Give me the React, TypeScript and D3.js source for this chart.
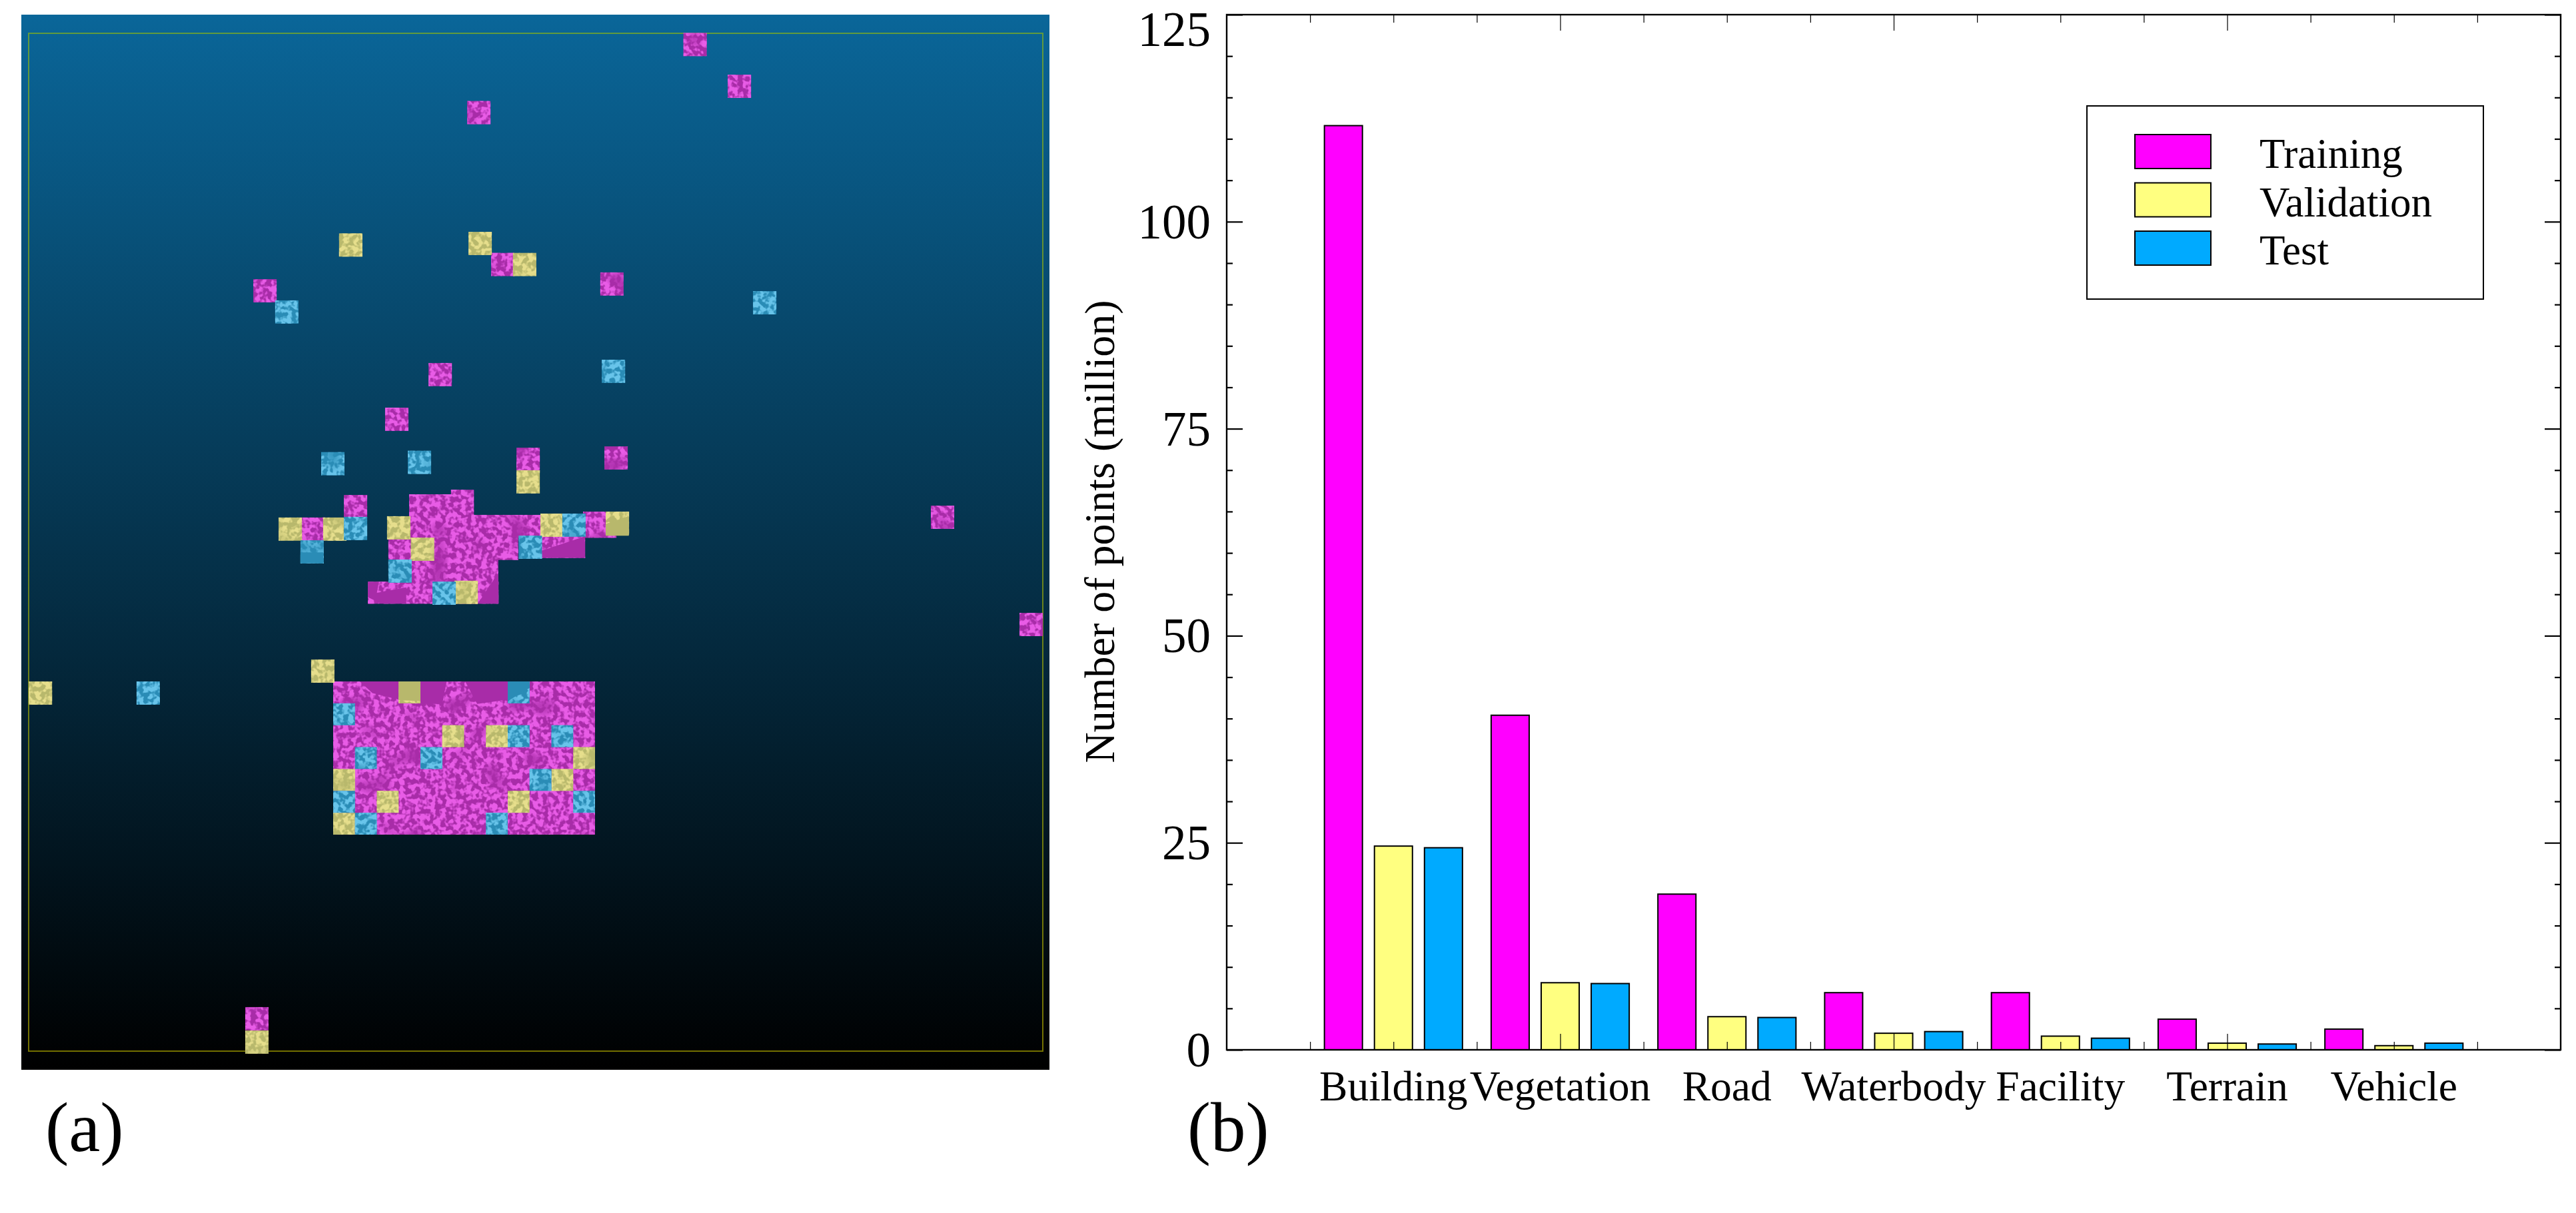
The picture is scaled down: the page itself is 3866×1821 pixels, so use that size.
import { useEffect, useRef } from 'react'
import * as d3 from 'd3'

// Panel (b): point counts in million
const categories = ['Building', 'Vegetation', 'Road', 'Waterbody', 'Facility', 'Terrain', 'Vehicle']
const trainingPoints = [111.6, 40.4, 18.8, 6.9, 6.9, 3.7, 2.5]
const validationPoints = [24.6, 8.1, 4.0, 2.0, 1.65, 0.8, 0.5]
const testPoints = [24.4, 8.0, 3.9, 2.2, 1.4, 0.7, 0.8]
const yMajorTicks = [0, 25, 50, 75, 100, 125]
const legendLabels = ['Training', 'Validation', 'Test']

// Panel (a): tile positions, in grid cells of the large block
const trainingBlocks = [
  [0, 0, 12, 7],
  [3.48, -8.55, 2.05, 1],
  [5.4, -8.76, 1.05, 1.2],
  [3.48, -7.61, 9.5, 1.05],
  [2.53, -6.57, 5.95, 1.02],
  [9.5, -6.66, 2.05, 1.02],
  [3.54, -5.57, 4.03, 1.03],
  [1.59, -4.56, 5.99, 1.01],
]
const trainingTiles = [
  [16.05, -29.63], [18.08, -27.72], [6.14, -26.52], [7.24, -19.58], [12.24, -18.69], [-3.66, -18.38],
  [4.37, -14.55], [2.38, -12.51], [8.4, -10.68], [12.43, -10.74], [27.39, -8.03], [0.49, -8.52],
  [-1.44, -7.49], [11.45, -7.76], [-4.03, 14.88], [31.45, -3.13],
]
const validationTiles = [
  [0.27, -20.47], [6.2, -20.54], [8.24, -19.58], [8.4, -9.65], [-2.5, -7.49], [-0.46, -7.49],
  [2.47, -7.55], [3.56, -6.57], [5.56, -4.6], [9.5, -7.67], [12.49, -7.76], [-4.03, 15.95],
  [-13.95, 0], [-1.01, -1],
]
const testTiles = [
  [-2.66, -17.41], [19.24, -17.83], [12.31, -14.7], [-0.55, -10.48], [3.42, -10.54], [0.49, -7.52],
  [-1.5, -6.45], [2.53, -5.57], [4.55, -4.56], [8.5, -6.66], [10.5, -7.67], [-9.01, 0],
]
const validationCells = [
  [3, 0], [5, 2], [7, 2], [11, 3], [0, 4], [10, 4], [2, 5], [8, 5], [0, 6],
]
const testCells = [
  [8, 0], [0, 1], [8, 2], [10, 2], [1, 3], [4, 3], [9, 4], [0, 5], [11, 5], [1, 6], [7, 6],
]
// areas of the tiles without texture
const trainingFlat = [
  [[1.22, 0], [3, 0], [3, 0.83], [1.8, 0.53]],
  [[4, 0], [5.2, 0], [5, 1.03], [4, 1.03]],
  [[6.05, 0], [8, 0], [8, 0.83], [6.6, 1.03]],
  [[11.53, -6.63], [11.53, -5.65], [9.56, -5.65], [9.56, -5.97]],
  [[7.57, -4.96], [7.57, -3.56], [6.63, -3.56]],
  [[1.59, -4.56], [2.1, -4.56], [2, -4.05], [3.35, -4.3], [3.35, -3.56], [2.2, -3.56], [1.59, -3.85]],
]
const validationFlat = [
  [[12.49, -7.2], [13.55, -7.55], [13.55, -6.66], [12.49, -6.66]],
  [[3, 0], [4, 0], [4, 0.9], [3, 0.85]],
]
const testFlat = [
  [[-1.5, -5.9], [-0.45, -5.9], [-0.45, -5.4], [-1.5, -5.4]],
  [[8, 0], [9, 0], [9, 0.3], [8, 0.9]],
]

const SERIF = '"Liberation Serif", "Times New Roman", serif'
const BAR_COLORS = ['#ff00ff', '#ffff80', '#00aaff']
const TILE_DARK = ['#a82ca8', '#b8b86c', '#2a8cb6']
const TILE_LIGHT = ['#e85ce6', '#e6de8c', '#68c4ea']

export default function App() {
  const svgRef = useRef<SVGSVGElement>(null)

  useEffect(() => {
    const svg = d3.select(svgRef.current)
    svg.selectAll('*').remove()
    const defs = svg.append('defs')

    const bg = defs.append('linearGradient').attr('id', 'ocean').attr('x1', 0).attr('x2', 0).attr('y1', 0).attr('y2', 1)
    bg.append('stop').attr('offset', 0).attr('stop-color', '#0a6699')
    bg.append('stop').attr('offset', 1).attr('stop-color', '#000000')

    const fr = defs.append('linearGradient').attr('id', 'frameLine').attr('x1', 0).attr('x2', 0).attr('y1', 0).attr('y2', 1)
    fr.append('stop').attr('offset', 0).attr('stop-color', '#5f9a3f')
    fr.append('stop').attr('offset', 1).attr('stop-color', '#737000')

    // speckle for the imagery tiles: fine grain, gated by a coarser noise
    TILE_LIGHT.forEach((light, i) => {
      const c = d3.rgb(light)
      const f = defs.append('filter').attr('id', `speckle${i}`)
        .attr('filterUnits', 'userSpaceOnUse')
        .attr('x', 0).attr('y', 0).attr('width', 1600).attr('height', 1620)
        .attr('color-interpolation-filters', 'sRGB')
      f.append('feTurbulence').attr('type', 'fractalNoise').attr('baseFrequency', 0.13)
        .attr('numOctaves', 2).attr('seed', 3 + i).attr('result', 'fine')
      f.append('feColorMatrix').attr('in', 'fine').attr('type', 'matrix')
        .attr('values', `0 0 0 0 ${c.r / 255} 0 0 0 0 ${c.g / 255} 0 0 0 0 ${c.b / 255} 6 0 0 0 -2.5`)
        .attr('result', 'spots')
      f.append('feTurbulence').attr('type', 'fractalNoise').attr('baseFrequency', 0.025)
        .attr('numOctaves', 1).attr('seed', 11 + i).attr('result', 'coarse')
      f.append('feColorMatrix').attr('in', 'coarse').attr('type', 'matrix')
        .attr('values', '0 0 0 0 0 0 0 0 0 0 0 0 0 0 0 5 0 0 0 -1.1')
        .attr('result', 'gate')
      f.append('feComposite').attr('in', 'spots').attr('in2', 'gate').attr('operator', 'in').attr('result', 'gated')
      f.append('feComposite').attr('in', 'gated').attr('in2', 'SourceAlpha').attr('operator', 'in').attr('result', 'clipped')
      const m = f.append('feMerge')
      m.append('feMergeNode').attr('in', 'SourceGraphic')
      m.append('feMergeNode').attr('in', 'clipped')
    })

    // ---- panel (a) ----
    const map = svg.append('g')
    map.append('rect').attr('x', 32).attr('y', 22).attr('width', 1543).attr('height', 1584).attr('fill', 'url(#ocean)')
    map.append('rect').attr('x', 43).attr('y', 50).attr('width', 1522).attr('height', 1528)
      .attr('fill', 'none').attr('stroke', 'url(#frameLine)').attr('stroke-width', 2)

    const tileX = d3.scaleLinear().domain([0, 12]).range([500, 893])
    const tileY = d3.scaleLinear().domain([0, 7]).range([1023, 1253])
    const cellW = tileX(1) - tileX(0)
    const cellH = tileY(1) - tileY(0)
    const flatPath = d3.line<number[]>().x(d => tileX(d[0])).y(d => tileY(d[1]))

    const layers = [
      { blocks: trainingBlocks, tiles: trainingTiles, cells: [] as number[][], flat: trainingFlat },
      { blocks: [] as number[][], tiles: validationTiles, cells: validationCells, flat: validationFlat },
      { blocks: [] as number[][], tiles: testTiles, cells: testCells, flat: testFlat },
    ]
    layers.forEach((layer, i) => {
      const g = map.append('g').attr('fill', TILE_DARK[i]).attr('filter', `url(#speckle${i})`)
      g.selectAll('rect.block').data(layer.blocks).join('rect').attr('class', 'block')
        .attr('x', d => tileX(d[0])).attr('y', d => tileY(d[1]))
        .attr('width', d => d[2] * cellW).attr('height', d => d[3] * cellH)
      g.selectAll('rect.tile').data(layer.tiles).join('rect').attr('class', 'tile')
        .attr('x', d => tileX(d[0])).attr('y', d => tileY(d[1]))
        .attr('width', 1.07 * cellW).attr('height', 1.06 * cellH)
      g.selectAll('rect.cell').data(layer.cells).join('rect').attr('class', 'cell')
        .attr('x', d => tileX(d[0])).attr('y', d => tileY(d[1]))
        .attr('width', cellW).attr('height', cellH)
      map.append('g').attr('fill', TILE_DARK[i]).selectAll('path').data(layer.flat).join('path')
        .attr('d', d => `${flatPath(d)}Z`)
    })

    svg.append('text').attr('x', 68).attr('y', 1728).attr('font-family', SERIF).attr('font-size', 106).text('(a)')
    svg.append('text').attr('x', 1782).attr('y', 1728).attr('font-family', SERIF).attr('font-size', 105).text('(b)')

    // ---- panel (b) ----
    const left = 1841, right = 3843, top = 22, bottom = 1576
    const x = d3.scaleLinear().domain([0, 8]).range([left, right])
    const y = d3.scaleLinear().domain([0, 125]).range([bottom, top])
    const series = [trainingPoints, validationPoints, testPoints]
    const offsets = [-0.3, 0, 0.3]
    const barW = x(0.228) - x(0)

    series.forEach((values, s) => {
      svg.append('g').selectAll('rect').data(values).join('rect')
        .attr('x', (_, i) => x(i + 1 + offsets[s]) - barW / 2)
        .attr('y', d => y(d))
        .attr('width', barW)
        .attr('height', d => y(0) - y(d))
        .attr('fill', BAR_COLORS[s])
        .attr('stroke', '#000')
        .attr('stroke-width', 2)
    })

    const xMinor = d3.range(0.5, 8, 0.5).filter(v => v % 2 !== 0)
    const xMajor = [2, 4, 6]
    const yMinor = d3.range(0, 126, 5).filter(v => v % 25 !== 0)

    const tickAxis = (gen: any, transform: string, width: number) => {
      const g = svg.append('g').attr('transform', transform).call(gen)
      g.select('.domain').remove()
      g.selectAll('line').attr('stroke', '#000').attr('stroke-width', width)
      g.selectAll('text').remove()
    }
    tickAxis(d3.axisBottom(x).tickValues(xMinor).tickSize(-12), `translate(0,${bottom})`, 1.2)
    tickAxis(d3.axisBottom(x).tickValues(xMajor).tickSize(-24), `translate(0,${bottom})`, 1.2)
    tickAxis(d3.axisTop(x).tickValues(xMinor).tickSize(-12), `translate(0,${top})`, 1.2)
    tickAxis(d3.axisTop(x).tickValues(xMajor).tickSize(-24), `translate(0,${top})`, 1.2)
    tickAxis(d3.axisLeft(y).tickValues(yMinor).tickSize(-9), `translate(${left},0)`, 2.2)
    tickAxis(d3.axisLeft(y).tickValues(yMajorTicks).tickSize(-24), `translate(${left},0)`, 2.2)
    tickAxis(d3.axisRight(y).tickValues(yMinor).tickSize(-9), `translate(${right},0)`, 2.2)
    tickAxis(d3.axisRight(y).tickValues(yMajorTicks).tickSize(-24), `translate(${right},0)`, 2.2)

    svg.append('rect').attr('x', left).attr('y', top).attr('width', right - left).attr('height', bottom - top)
      .attr('fill', 'none').attr('stroke', '#000').attr('stroke-width', 2.4)

    svg.append('g').selectAll('text').data(yMajorTicks).join('text')
      .attr('x', left - 24)
      // the top label sits below its tick in the source
      .attr('y', d => (d === 125 ? y(d) + 47 : y(d) + 25))
      .attr('text-anchor', 'end')
      .attr('font-family', SERIF)
      .attr('font-size', 73)
      .text(d => d)

    svg.append('g').selectAll('text').data(categories).join('text')
      .attr('x', (_, i) => x(i + 1))
      .attr('y', 1652)
      .attr('text-anchor', 'middle')
      .attr('font-family', SERIF)
      .attr('font-size', 63.5)
      .text(d => d)

    svg.append('text')
      .attr('transform', `translate(1672,798) rotate(-90)`)
      .attr('text-anchor', 'middle')
      .attr('font-family', SERIF)
      .attr('font-size', 64)
      .text('Number of points (million)')

    // legend
    svg.append('rect').attr('x', 3132).attr('y', 159).attr('width', 595).attr('height', 290)
      .attr('fill', '#fff').attr('stroke', '#000').attr('stroke-width', 2)
    const legendY = d3.scalePoint().domain(legendLabels).range([202, 347])
    const legend = svg.append('g').selectAll('g').data(legendLabels).join('g')
      .attr('transform', d => `translate(3204,${legendY(d)})`)
    legend.append('rect').attr('width', 114).attr('height', 51)
      .attr('fill', (_, i) => BAR_COLORS[i]).attr('stroke', '#000').attr('stroke-width', 2)
    legend.append('text').attr('x', 187).attr('y', 50)
      .attr('font-family', SERIF).attr('font-size', 63).text(d => d)
  }, [])

  return (
    <svg
      ref={svgRef}
      width={3866}
      height={1821}
      style={{ position: 'absolute', left: 0, top: 0, background: '#fff' }}
    />
  )
}
